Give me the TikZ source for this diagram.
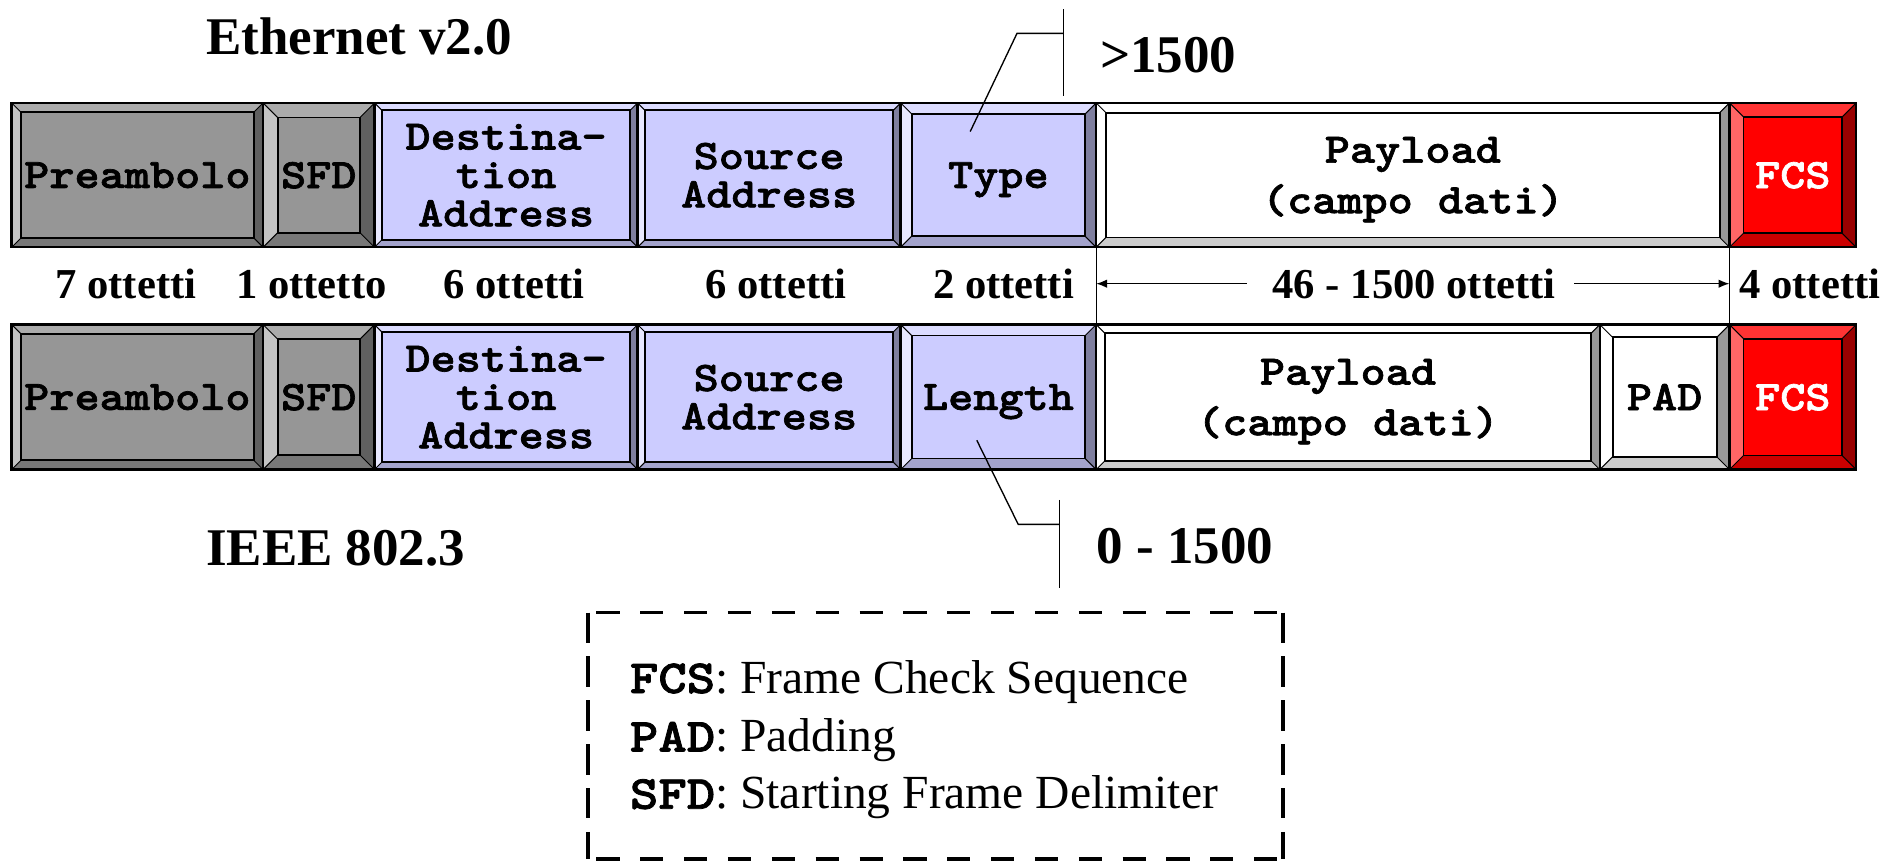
\documentclass[tikz,border=0pt]{standalone}
\usepackage{fontspec}
\setmainfont{Liberation Serif}
\newfontfamily\courb{lmmonolt10-bold.otf}[FakeStretch=1.14,FakeBold=1.6]
\usetikzlibrary{arrows.meta}
\definecolor{gryF}{HTML}{969696}
\definecolor{gryT}{HTML}{ABABAB}
\definecolor{gryL}{HTML}{C4C4C4}
\definecolor{gryR}{HTML}{606060}
\definecolor{gryB}{HTML}{787878}
\definecolor{lavF}{HTML}{CCCCFF}
\definecolor{lavT}{HTML}{DCDCFF}
\definecolor{lavL}{HTML}{E8E8FF}
\definecolor{lavR}{HTML}{7F7F9F}
\definecolor{lavB}{HTML}{A3A3CC}
\definecolor{whtF}{HTML}{FFFFFF}
\definecolor{whtT}{HTML}{FFFFFF}
\definecolor{whtL}{HTML}{FFFFFF}
\definecolor{whtR}{HTML}{999999}
\definecolor{whtB}{HTML}{CCCCCC}
\definecolor{redF}{HTML}{FF0000}
\definecolor{redT}{HTML}{FF3333}
\definecolor{redL}{HTML}{FF6666}
\definecolor{redR}{HTML}{990000}
\definecolor{redB}{HTML}{CC0000}
% #1 name, #2 x1, #3 x2, #4 y top, #5 y bottom, #6 bevel, #7 palette, #8 text colour, #9 text
\newcommand{\bevbox}[9]{%
  \fill[#7T] (#2,#4) -- (#3,#4) -- ({#3-#6},{#4+#6}) -- ({#2+#6},{#4+#6}) -- cycle;
  \fill[#7L] (#2,#4) -- ({#2+#6},{#4+#6}) -- ({#2+#6},{#5-#6}) -- (#2,#5) -- cycle;
  \fill[#7R] (#3,#4) -- (#3,#5) -- ({#3-#6},{#5-#6}) -- ({#3-#6},{#4+#6}) -- cycle;
  \fill[#7B] (#2,#5) -- (#3,#5) -- ({#3-#6},{#5-#6}) -- ({#2+#6},{#5-#6}) -- cycle;
  \filldraw[fill=#7F, draw=black, line width=1.5pt] ({#2+#6},{#4+#6}) rectangle ({#3-#6},{#5-#6});
  \draw[line width=0.8pt] (#2,#4) -- ({#2+#6},{#4+#6}) (#3,#4) -- ({#3-#6},{#4+#6})
       (#3,#5) -- ({#3-#6},{#5-#6}) (#2,#5) -- ({#2+#6},{#5-#6});
  \draw[line width=2pt] (#2,#4) rectangle (#3,#5);
  \node[boxtxt, text=#8] (#1) at ({(#2+#3)/2},{(#4+#5)/2}) {#9};
}
\begin{document}
\begin{tikzpicture}[x=1pt,y=-1pt,
  boxtxt/.style={align=center, inner sep=0pt, text depth=0pt, font=\fontsize{34.5pt}{31.5pt}\selectfont\courb},
  titletxt/.style={anchor=base west, inner sep=0pt, font=\fontsize{43.5pt}{50pt}\selectfont\bfseries},
  octtxt/.style={anchor=base, inner sep=0pt, font=\fontsize{35pt}{40pt}\selectfont\bfseries},
  legtxt/.style={anchor=base west, inner sep=0pt, font=\fontsize{39pt}{47pt}\selectfont},
  lead/.style={line width=1.1pt},
  vline/.style={line width=1pt},
  arr/.style={line width=1.2pt, -{Latex[length=9pt,width=7pt]}},
  hdash/.style={line width=2.8pt, dash pattern=on 19pt off 17pt, dash phase=29pt},
  vdash/.style={line width=3.2pt, dash pattern=on 25pt off 11pt}]
\useasboundingbox (0,0) rectangle (1560,707);

% Ethernet v2.0 row
\bevbox{pre1}{9.6}{216}{84.5}{203}{7.5}{gry}{black}{Preambolo}
\bevbox{sfd1}{216}{307.5}{84.5}{203}{12}{gry}{black}{SFD}
\bevbox{dst1}{307.5}{523.5}{84.5}{203}{6}{lav}{black}{Destina-\\tion\\Address}
\bevbox{src1}{523.5}{739.5}{84.5}{203}{6}{lav}{black}{Source\\Address}
\bevbox{typ1}{739.5}{900}{84.5}{203}{9}{lav}{black}{Type}
\bevbox{pay1}{900}{1420}{84.5}{203}{8}{wht}{black}{Payload\\[9pt](campo dati)}
\bevbox{fcs1}{1420}{1524}{84.5}{203}{11.5}{red}{white}{FCS}

% IEEE 802.3 row
\bevbox{pre2}{9.6}{216}{266.5}{385.5}{7.5}{gry}{black}{Preambolo}
\bevbox{sfd2}{216}{307.5}{266.5}{385.5}{12}{gry}{black}{SFD}
\bevbox{dst2}{307.5}{523.5}{266.5}{385.5}{6}{lav}{black}{Destina-\\tion\\Address}
\bevbox{src2}{523.5}{739.5}{266.5}{385.5}{6}{lav}{black}{Source\\Address}
\bevbox{len2}{739.5}{900}{266.5}{385.5}{9}{lav}{black}{Length}
\bevbox{pay2}{900}{1313.5}{266.5}{385.5}{7}{wht}{black}{Payload\\[9pt](campo dati)}
\bevbox{pad2}{1313.5}{1420}{266.5}{385.5}{10.5}{wht}{black}{PAD}
\bevbox{fcs2}{1420}{1524}{266.5}{385.5}{11.5}{red}{white}{FCS}

% titles
\node[titletxt] (eth) at (169,44.5) {Ethernet v2.0};
\node[titletxt] (ieee) at (169,464.5) {IEEE 802.3};
\node[titletxt] (gt) at (903,59.5) {>1500};
\node[titletxt] (rng) at (900,462.5) {0 - 1500};

% leader lines
\coordinate (ta) at (796.6,108);
\coordinate (tb) at (835,27.4);
\coordinate (tc) at (873,27.4);
\coordinate (tv1) at (873,7.7);
\coordinate (tv2) at (873,78.8);
\draw[lead] (ta) -- (tb) -- (tc);
\draw[lead] (tv1) -- (tv2);
\coordinate (ba) at (802,361.5);
\coordinate (bb) at (836,430.5);
\coordinate (bc) at (870,430.5);
\coordinate (bv1) at (870,410.5);
\coordinate (bv2) at (870,482.5);
\draw[lead] (ba) -- (bb) -- (bc);
\draw[lead] (bv1) -- (bv2);

% octet counts
\node[octtxt] (o1) at (103.3,244.9) {7 ottetti};
\node[octtxt] (o2) at (255.7,244.9) {1 ottetto};
\node[octtxt] (o3) at (422,244.9) {6 ottetti};
\node[octtxt] (o4) at (637,244.9) {6 ottetti};
\node[octtxt] (o5) at (824,244.9) {2 ottetti};
\node[octtxt] (o6) at (1161,244.9) {46 - 1500 ottetti};
\node[octtxt] (o7) at (1486,244.9) {4 ottetti};

\coordinate (va1) at (900,203);
\coordinate (vb1) at (900,266.5);
\coordinate (va2) at (1420,203);
\coordinate (vb2) at (1420,266.5);
\draw[vline] (va1) -- (vb1);
\draw[vline] (va2) -- (vb2);
\draw[arr] ([xshift=-21pt]o6.west) -- (o6.west -| va1);
\draw[arr] ([xshift=15pt]o6.east) -- (o6.east -| va2);

% legend
\node[minimum width=570pt, minimum height=202pt, inner sep=0pt, anchor=north west] (legend) at (482.7,503) {};
\draw[hdash] (legend.north west) -- (legend.north east);
\draw[hdash] (legend.south west) -- (legend.south east);
\draw[vdash] (legend.north west) -- (legend.south west);
\draw[vdash] (legend.north east) -- (legend.south east);
\node[legtxt] (l1) at (517,569) {{\courb FCS}: Frame Check Sequence};
\node[legtxt] (l2) at (517,617) {{\courb PAD}: Padding};
\node[legtxt] (l3) at (517,664) {{\courb SFD}: Starting Frame Delimiter};
\end{tikzpicture}
\end{document}
